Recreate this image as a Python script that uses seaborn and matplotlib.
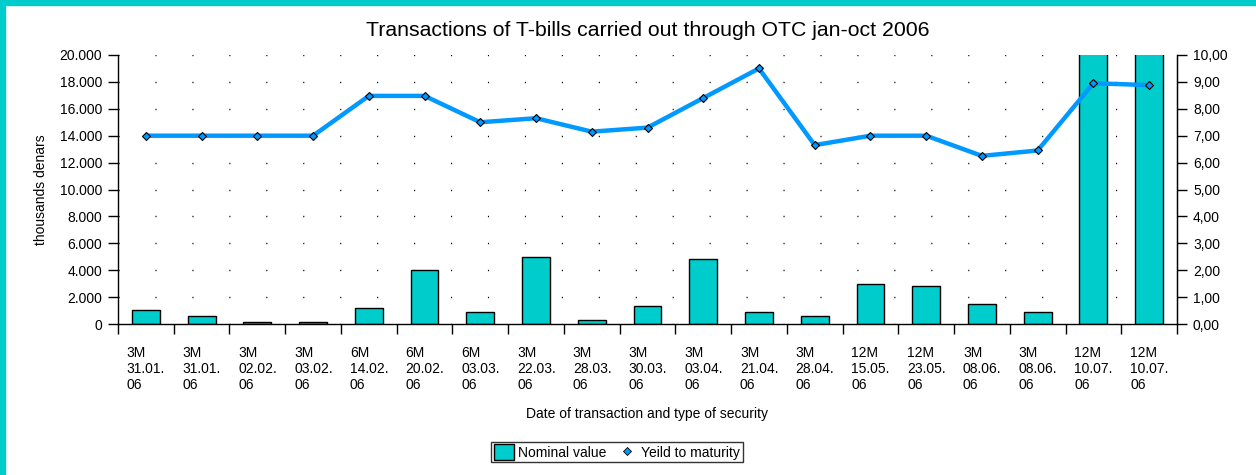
import matplotlib
matplotlib.use("Agg")
import matplotlib.pyplot as plt
import matplotlib.transforms as mtransforms
from matplotlib.patches import Rectangle, Patch
from matplotlib.lines import Line2D
from matplotlib.ticker import FuncFormatter, MultipleLocator
import numpy as np
import pandas as pd
import seaborn as sns

# data
securities = ["3M", "3M", "3M", "3M", "6M", "6M", "6M", "3M", "3M", "3M",
              "3M", "3M", "3M", "12M", "12M", "3M", "3M", "12M", "12M"]
dates = ["31.01.", "31.01.", "02.02.", "03.02.", "14.02.", "20.02.", "03.03.",
         "22.03.", "28.03.", "30.03.", "03.04.", "21.04.", "28.04.", "15.05.",
         "23.05.", "08.06.", "08.06.", "10.07.", "10.07."]
nominal_value = [1050, 600, 150, 150, 1200, 4000, 900, 5000, 300, 1350,
                 4850, 900, 600, 2950, 2800, 1500, 900, 25000, 25000]
yield_to_maturity = [7.00, 7.00, 7.00, 7.00, 8.48, 8.48, 7.50, 7.65, 7.15, 7.30,
                     8.40, 9.50, 6.65, 7.00, 7.00, 6.25, 6.45, 8.95, 8.88]

labels = [f"{s}\n{d}\n06" for s, d in zip(securities, dates)]
df = pd.DataFrame({"pos": np.arange(len(labels)), "label": labels,
                   "nominal": nominal_value, "ytm": yield_to_maturity})

teal = "#00CCCC"
blue = "#0099FF"

sns.set_style("white")
plt.rcParams["font.family"] = ["Liberation Sans", "DejaVu Sans"]
plt.rcParams.update({"text.color": "black", "axes.labelcolor": "black",
                     "xtick.color": "black", "ytick.color": "black",
                     "xtick.bottom": True, "xtick.minor.bottom": True,
                     "ytick.left": True, "ytick.right": True})

fig, ax = plt.subplots(figsize=(12.56, 4.75), dpi=100)
fig.subplots_adjust(left=118 / 1256, right=1177 / 1256, top=1 - 55 / 475, bottom=1 - 324 / 475)

# bars
sns.barplot(data=df, x="pos", y="nominal", color=teal, width=0.5, saturation=1,
            edgecolor="black", linewidth=1, ax=ax, native_scale=True)
ax.set_xlim(-0.5, len(labels) - 0.5)
ax.set_ylim(0, 20000)
ax.yaxis.set_major_locator(MultipleLocator(2000))
ax.yaxis.set_major_formatter(FuncFormatter(lambda v, p: f"{int(v):,}".replace(",", ".")))

# dotted horizontal grid
ax.yaxis.grid(True, color="black", linewidth=1, linestyle=(0, (0.8, 25.8)))
ax.set_axisbelow(True)

# x ticks: labels at centres, tick marks between categories
ax.set_xticks(df["pos"])
ax.set_xticklabels(labels, ha="left", fontsize=10, linespacing=1.15)
ax.set_xticks(np.arange(-0.5, len(labels)), minor=True)
ax.tick_params(axis="x", which="major", bottom=True, length=0, pad=16)
ax.tick_params(axis="x", which="minor", bottom=True, length=7.5, width=1,
               color="black", direction="out")
offset = mtransforms.ScaledTranslation(-19 / 100, 0, fig.dpi_scale_trans)
for lbl in ax.get_xticklabels():
    lbl.set_transform(lbl.get_transform() + offset)
ax.tick_params(axis="y", left=True, length=7.5, width=1, color="black",
               direction="out", pad=4, labelsize=10)

ax.set_xlabel("Date of transaction and type of security", fontsize=10, labelpad=11)
ax.set_ylabel("thousands denars", fontsize=10, labelpad=8)

ax.spines["top"].set_visible(False)
for side in ["left", "bottom", "right"]:
    ax.spines[side].set_color("black")
    ax.spines[side].set_linewidth(1)

# yield line on secondary axis
ax2 = ax.twinx()
sns.lineplot(data=df, x="pos", y="ytm", color=blue, linewidth=3.2, marker="D",
             markersize=4.5, markerfacecolor=blue, markeredgecolor="black",
             markeredgewidth=0.8, ax=ax2, legend=False)
ax2.set_ylim(0, 10)
ax2.set_xlim(-0.5, len(labels) - 0.5)
ax2.yaxis.set_major_locator(MultipleLocator(1))
ax2.yaxis.set_major_formatter(FuncFormatter(lambda v, p: f"{v:.2f}".replace(".", ",")))
ax2.tick_params(axis="y", right=True, length=7.5, width=1, color="black",
                direction="out", pad=4, labelsize=10)
ax2.set_ylabel("")
ax2.set_xlabel("")
ax2.spines["top"].set_visible(False)
ax2.spines["right"].set_color("black")
ax2.spines["left"].set_visible(False)
ax2.spines["bottom"].set_visible(False)
ax2.grid(False)

ax.set_title("Transactions of T-bills carried out through OTC jan-oct 2006",
             fontsize=15.3, pad=14, color="black")

handles = [Patch(facecolor=teal, edgecolor="black", linewidth=1),
           Line2D([], [], linestyle="none", marker="D", markersize=4,
                  markerfacecolor=blue, markeredgecolor="black", markeredgewidth=0.6)]
fig.legend(handles, ["Nominal value", "Yeild to maturity"], loc="center",
           bbox_to_anchor=(617 / 1256, 1 - 452 / 475), ncol=2, fontsize=10,
           frameon=True, fancybox=False, edgecolor="black", handlelength=1.4,
           handleheight=1.3, handletextpad=0.3, columnspacing=0.8,
           borderpad=0.2, borderaxespad=0)

# cyan frame along the top and left edges
fig.patches.append(Rectangle((0, 0), 5 / 1256, 1, transform=fig.transFigure,
                             color=teal, zorder=10))
fig.patches.append(Rectangle((0, 1 - 5 / 475), 1, 5 / 475, transform=fig.transFigure,
                             color=teal, zorder=10))

fig.savefig("out.png", dpi=100)
